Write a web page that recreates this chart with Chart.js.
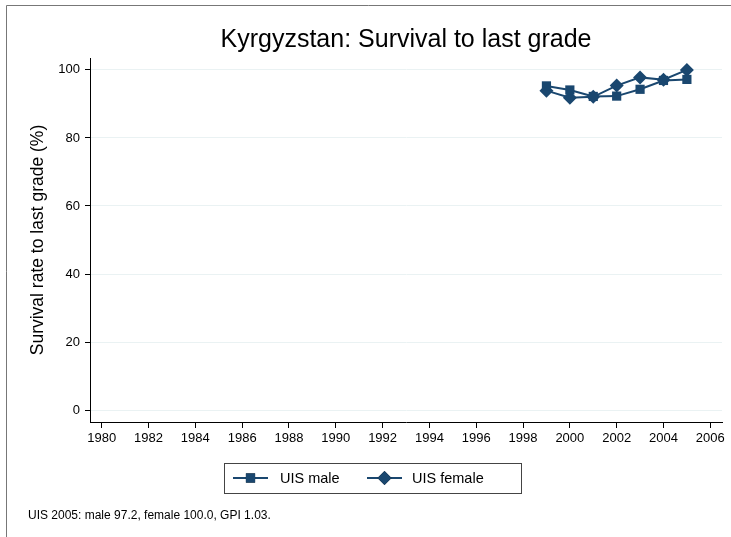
<!DOCTYPE html>
<html>
<head>
<meta charset="utf-8">
<script src="https://cdn.jsdelivr.net/npm/chart.js@4/dist/chart.umd.min.js"></script>
<style>
  html, body { margin: 0; padding: 0; background: #fff; }
  #wrap { width: 731px; height: 537px; position: relative; }
</style>
</head>
<body>
<div id="wrap"><canvas id="chart" width="731" height="537"></canvas></div>
<script>
// Data

const years = [1999, 2000, 2001, 2002, 2003, 2004, 2005];
const maleValues = [95.3, 94.1, 92.2, 92.3, 94.3, 96.9, 97.2];
const femaleValues = [93.9, 91.8, 92.1, 95.4, 97.8, 97.1, 100.0];
const xTicks = [1980, 1982, 1984, 1986, 1988, 1990, 1992, 1994, 1996, 1998, 2000, 2002, 2004, 2006];
const yTicks = [0, 20, 40, 60, 80, 100];

const titleText = 'Kyrgyzstan: Survival to last grade';
const yTitle = 'Survival rate to last grade (%)';
const noteText = 'UIS 2005: male 97.2, female 100.0, GPI 1.03.';

const navy = '#1a476f';
const fontName = '"Liberation Sans", Arial, sans-serif';

// Building the datasets

function toPoints(values) {
    return years.map((y, i) => ({ x: y, y: values[i] }));
}

const data = {
    datasets: [{
        label: 'UIS male',
        data: toPoints(maleValues),
        borderColor: navy,
        backgroundColor: navy,
        borderWidth: 2,
        pointStyle: 'rect',
        pointRadius: 6.5,
        pointBorderWidth: 0
    }, {
        label: 'UIS female',
        data: toPoints(femaleValues),
        borderColor: navy,
        backgroundColor: navy,
        borderWidth: 2,
        pointStyle: 'rectRot',
        pointRadius: 7,
        pointBorderWidth: 0
    }]
};

// Plugin that draws the frame, title, axis title, legend box and note

const decorations = {
    id: 'decorations',
    afterDraw(chart) {
        const ctx = chart.ctx;
        const area = chart.chartArea;
        ctx.save();

        // outer frame (top and left visible)
        ctx.strokeStyle = '#777';
        ctx.lineWidth = 1;
        ctx.beginPath();
        ctx.moveTo(6.5, 537);
        ctx.lineTo(6.5, 5.5);
        ctx.lineTo(731, 5.5);
        ctx.stroke();

        // title
        ctx.fillStyle = '#000';
        ctx.font = '25px ' + fontName;
        ctx.textAlign = 'center';
        ctx.textBaseline = 'alphabetic';
        ctx.fillText(titleText, (area.left + area.right) / 2, 47);

        // y axis title
        ctx.font = '17.5px ' + fontName;
        ctx.textBaseline = 'middle';
        ctx.translate(38, 240);
        ctx.rotate(-Math.PI / 2);
        ctx.fillText(yTitle, 0, 0);
        ctx.setTransform(1, 0, 0, 1, 0, 0);

        // legend box
        ctx.strokeStyle = '#444';
        ctx.lineWidth = 1;
        ctx.strokeRect(224.5, 463.5, 297, 30);

        const legendY = 478;
        const entries = [
            { x: 233, textX: 280, ds: chart.data.datasets[0] },
            { x: 367, textX: 412, ds: chart.data.datasets[1] }
        ];
        entries.forEach(e => {
            ctx.strokeStyle = e.ds.borderColor;
            ctx.lineWidth = 2;
            ctx.beginPath();
            ctx.moveTo(e.x, legendY);
            ctx.lineTo(e.x + 35, legendY);
            ctx.stroke();
            Chart.helpers.drawPoint(ctx, {
                pointStyle: e.ds.pointStyle,
                radius: e.ds.pointRadius,
                borderWidth: 0
            }, e.x + 17.5, legendY);
            ctx.fillStyle = e.ds.backgroundColor;
            ctx.fill();
            ctx.fillStyle = '#000';
            ctx.font = '14.5px ' + fontName;
            ctx.textAlign = 'left';
            ctx.fillText(e.ds.label, e.textX, legendY + 1);
        });

        // note
        ctx.font = '12px ' + fontName;
        ctx.textAlign = 'left';
        ctx.fillText(noteText, 28, 516);

        ctx.restore();
    }
};

const options = {
    responsive: false,
    animation: false,
    layout: {
        padding: { left: 0, right: 9, top: 58, bottom: 85 }
    },
    plugins: {
        legend: { display: false },
        title: { display: false },
        tooltip: { enabled: false }
    },
    scales: {
        x: {
            type: 'linear',
            min: 1979.5,
            max: 2006.5,
            afterBuildTicks: (scale) => { scale.ticks = xTicks.map(v => ({ value: v })); },
            afterFit: (scale) => { scale.height = 30; },
            grid: {
                drawOnChartArea: false,
                tickLength: 6,
                tickColor: '#000'
            },
            border: { color: '#000', width: 1 },
            ticks: {
                padding: 3,
                color: '#000',
                font: { family: fontName, size: 13 },
                maxRotation: 0,
                autoSkip: false,
                callback: (value) => String(value)
            }
        },
        y: {
            type: 'linear',
            min: -3.5,
            max: 103.5,
            afterBuildTicks: (scale) => { scale.ticks = yTicks.map(v => ({ value: v })); },
            afterFit: (scale) => { scale.width = 90; },
            grid: {
                color: '#eaf2f3',
                tickLength: 5,
                tickColor: '#000'
            },
            border: { color: '#000', width: 1 },
            ticks: {
                padding: 5,
                color: '#000',
                font: { family: fontName, size: 13 },
                callback: (value) => String(value)
            }
        }
    }
};

const myChart = new Chart(document.getElementById('chart'), {
    type: 'line',
    data,
    options,
    plugins: [decorations]
});
</script>
</body>
</html>
